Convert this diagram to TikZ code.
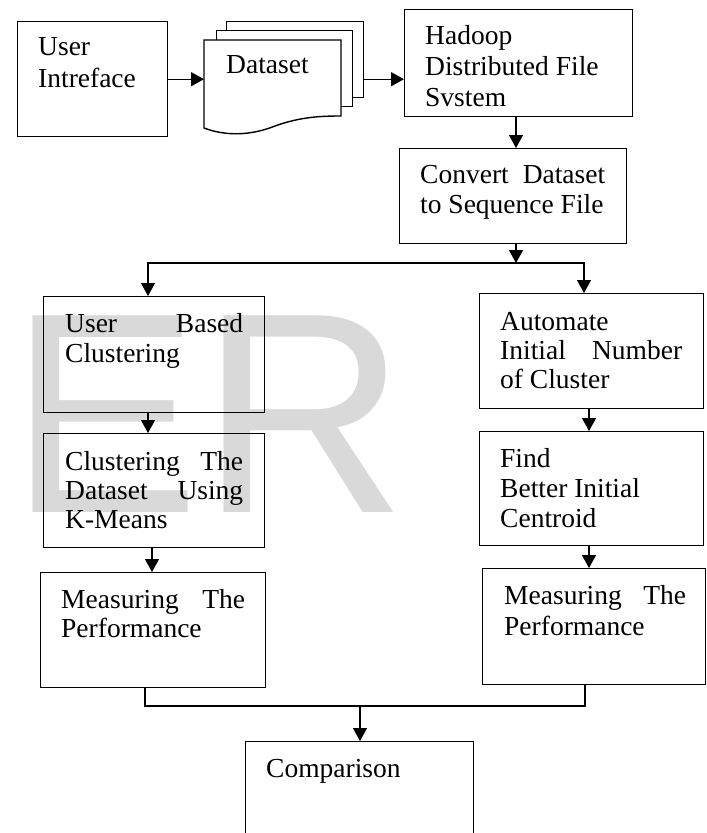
\documentclass[tikz,border=0pt]{standalone}
\usepackage{fontspec}
\usetikzlibrary{arrows.meta}
\newfontfamily\wmfont{Liberation Sans}
\newfontfamily\palfont{Liberation Serif}
\definecolor{wmgray}{RGB}{217,217,217}
\newcommand\mybox[5]{\node[box,anchor=north west,minimum width={(#4-#2)*1pt},minimum height={(#5-#3)*1pt}] (#1) at (#2,#3) {};}
\tikzset{
  box/.style={draw,line width=1.4pt,inner sep=0pt,rectangle},
  sheet/.style={box,fill=white},
  ln/.style={line width=1.4pt},
  arr/.style={line width=1.4pt,-{Triangle[length=13pt,width=14pt]}},
  txt/.style={inner sep=0pt,anchor=base west,align=left,font=\palfont\fontsize{27.5}{30}\selectfont},
}
\begin{document}
\begin{tikzpicture}[x=1pt,y=-1pt]
\useasboundingbox (0,0) rectangle (707,833);
\clip (0,0) rectangle (707,833);
% watermark
\node[inner sep=0pt,anchor=base west,text=wmgray,font=\wmfont\fontsize{286}{300}\selectfont] (wm) at (9.4,512) {ER};

% boxes
\mybox{ui}{17}{21}{167}{136}
\node[sheet,anchor=north west,minimum width=137pt,minimum height=76pt] (sh3) at (226,21) {};
\node[sheet,anchor=north west,minimum width=136pt,minimum height=76pt] (sh2) at (216,30) {};
\draw[line width=1.4pt,fill=white] (204,40) -- (341,40) -- (341,116)
  .. controls (320,116) and (300,117) .. (275,126)
  .. controls (250,136) and (225,136) .. (204,128) -- cycle;
\node[inner sep=0pt,anchor=north west,minimum width=137pt,minimum height=88pt] (ds) at (204,40) {};
\mybox{hdfs}{404}{9}{632}{116}
\mybox{conv}{399}{148}{626}{243}
\mybox{ubc}{43}{296}{264}{412}
\mybox{ctd}{43}{433}{264}{547}
\mybox{mpL}{40}{572}{265}{687}
\mybox{auto}{479}{293}{703}{408}
\mybox{find}{479}{431}{703}{545}
\mybox{mpR}{482}{568}{705}{684}
\mybox{comp}{245}{741}{473}{880}

% texts (anchor = baseline of the last line)
\node[txt,font=\palfont\fontsize{27.5}{32}\selectfont] (uiT) at (38,87) {User\\Intreface};
\node[txt] (dsT) at (226,73) {Dataset};
\node[txt,font=\palfont\fontsize{27.5}{31}\selectfont] (hdT) at (425,106) {Hadoop\\Distributed File\\Svstem};
\node[txt] (cvT) at (420,213) {\makebox[185pt][s]{Convert Dataset}\\to Sequence File};
\node[txt] (ubT) at (65,362) {\makebox[178pt][s]{User Based}\\Clustering};
\node[txt,font=\palfont\fontsize{27.5}{29}\selectfont] (ctT) at (65,528) {\makebox[178pt][s]{Clustering The}\\\makebox[178pt][s]{Dataset Using}\\K-Means};
\node[txt,font=\palfont\fontsize{27.5}{29}\selectfont] (auT) at (500,388) {Automate\\\makebox[182pt][s]{Initial Number}\\of Cluster};
\node[txt] (fiT) at (500,527) {Find\\Better Initial\\Centroid};
\node[txt,font=\palfont\fontsize{27.5}{29}\selectfont] (mlT) at (61,637) {\makebox[184pt][s]{Measuring The}\\Performance};
\node[txt,font=\palfont\fontsize{27.5}{31}\selectfont] (mrT) at (504,635) {\makebox[182pt][s]{Measuring The}\\Performance};
\node[txt] (coT) at (266,777) {Comparison};

% helper coordinates
\coordinate (sp) at (516,263);
\coordinate (xL) at (148,0);
\coordinate (xL2) at (152,0);
\coordinate (xR) at (584,0);
\coordinate (xR2) at (589,0);
\coordinate (xM1) at (145,0);
\coordinate (xM2) at (585,0);
\coordinate (m) at (360,706);

% connectors
\draw[arr] (ui.east) -- (ds.west |- ui.east);
\draw[arr] (sh3.east |- ui.east) -- (hdfs.west |- ui.east);
\draw[arr] (sp |- hdfs.south) -- (sp |- conv.north);
\draw[arr] (sp |- conv.south) -- (sp);
\draw[arr] (sp) -| (xL |- ubc.north);
\draw[arr] (sp) -| (xR |- auto.north);
\draw[arr] (xL |- ubc.south) -- (xL |- ctd.north);
\draw[arr] (xL2 |- ctd.south) -- (xL2 |- mpL.north);
\draw[arr] (xR2 |- auto.south) -- (xR2 |- find.north);
\draw[arr] (xR2 |- find.south) -- (xR2 |- mpR.north);
\draw[ln] (xM1 |- mpL.south) |- (m) -| (xM2 |- mpR.south);
\draw[arr] (m) -- (m |- comp.north);
\end{tikzpicture}
\end{document}
